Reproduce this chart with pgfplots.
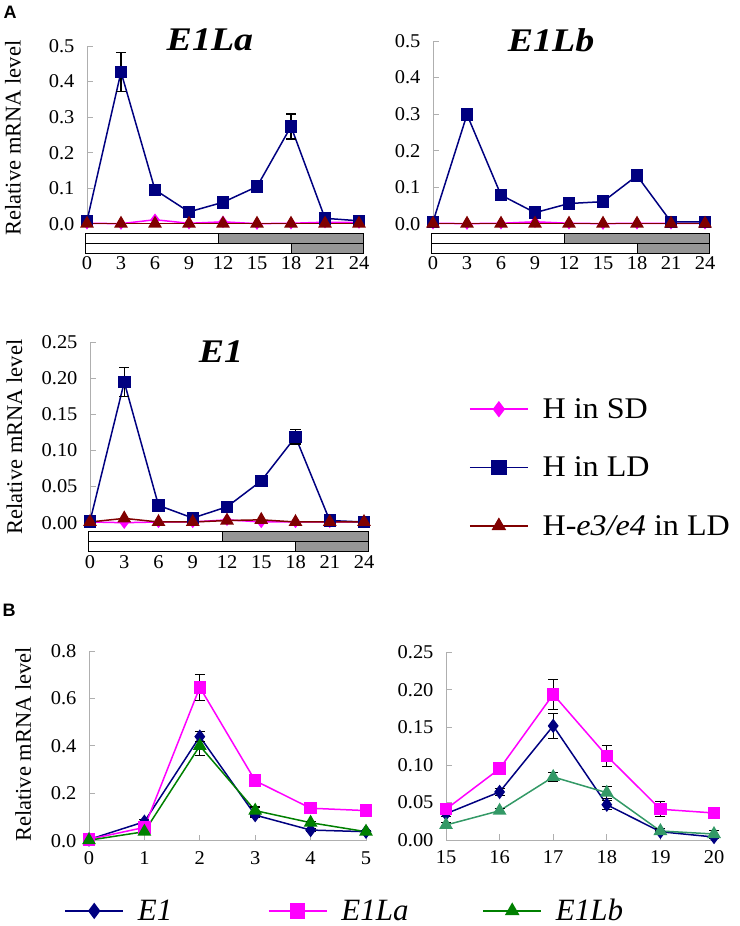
\documentclass[border=0pt]{standalone}
\usepackage{pgfplots}
\pgfplotsset{compat=1.18}
\usepackage{fontspec}
\setmainfont{Liberation Serif}
\newfontfamily\widef{Liberation Serif}[FakeStretch=1.15]
\newfontfamily\legf{Liberation Serif}[FakeStretch=1.07]
\newfontfamily\tickf{Liberation Serif}[FakeStretch=1.05]
\newfontfamily\pfont{Liberation Sans}
\definecolor{navy}{RGB}{0,0,128}
\definecolor{mag}{RGB}{255,0,255}
\definecolor{dred}{RGB}{128,0,0}
\definecolor{dgreen}{RGB}{0,128,0}
\definecolor{sgreen}{RGB}{51,153,102}
\definecolor{axgray}{RGB}{175,175,175}
\definecolor{barg}{RGB}{150,150,150}
\pgfplotsset{
 base/.style={
  scale only axis, anchor=south west, clip=false, enlargelimits=false,
  axis lines=left, axis line style={-, draw=axgray, line width=0.8bp},
  tick align=inside, major tick length=6bp, tick style={axgray, line width=0.8bp},
  /pgf/number format/assume math mode=true,
  tick label style={font=\tickf\fontsize{19.5bp}{22bp}\selectfont},
  yticklabel style={xshift=-9bp},
  legend image code/.code={\draw[mark repeat=2,mark phase=2,##1] plot coordinates {(0bp,0bp) (29bp,0bp) (58bp,0bp)};},
 },
 panA/.style={base, xmin=0, xmax=24, ymin=0, xtick={0,3,...,24},
  x axis line style={draw=none}, xtick style={draw=none}, xticklabel style={yshift=-29bp}},
 panB/.style={base, ymin=0, xticklabel style={yshift=-7bp}},
 dec1/.style={yticklabel style={/pgf/number format/.cd, fixed, fixed zerofill, precision=1}},
 dec2/.style={yticklabel style={/pgf/number format/.cd, fixed, fixed zerofill, precision=2}},
 eb/.style={error bars/.cd, y dir=both, y explicit, error bar style={black, line width=1.2bp},
  error mark options={black, rotate=90, mark size=5bp, line width=1.2bp}},
 sd/.style={color=mag, line width=1.5bp, mark=diamond*, mark size=5bp},
 ld/.style={color=navy, line width=1.5bp, mark=square*, mark size=5.5bp, eb},
 e34/.style={color=dred, line width=1.5bp, mark=triangle*, mark size=6.5bp},
 be1/.style={color=navy, line width=1.5bp, mark=diamond*, mark size=6bp, eb},
 bla/.style={color=mag, line width=1.5bp, mark=square*, mark size=5.5bp, eb},
 blb/.style={color=dgreen, line width=1.5bp, mark=triangle*, mark size=6.5bp, eb},
 blb2/.style={color=sgreen, line width=1.5bp, mark=triangle*, mark size=6.5bp, eb},
}
\newcommand{\lightbars}{%
 \filldraw[fill=white, draw=black, line width=0.8bp] ([yshift=-9bp]axis cs:-0.1,0) rectangle ([yshift=-19bp]axis cs:24.4,0);
 \filldraw[fill=barg, draw=black, line width=0.8bp] ([yshift=-9bp]axis cs:11.6,0) rectangle ([yshift=-19bp]axis cs:24.4,0);
 \filldraw[fill=white, draw=black, line width=0.8bp] ([yshift=-19bp]axis cs:-0.1,0) rectangle ([yshift=-29bp]axis cs:24.4,0);
 \filldraw[fill=barg, draw=black, line width=0.8bp] ([yshift=-19bp]axis cs:18,0) rectangle ([yshift=-29bp]axis cs:24.4,0);
}
\newcommand{\ttl}{\widef\fontsize{33bp}{36bp}\selectfont\bfseries\itshape}
\newcommand{\yl}{\fontsize{22.5bp}{26bp}\selectfont}
\begin{document}
\begin{tikzpicture}
\path[use as bounding box] (0bp,0bp) rectangle (740bp,-926bp);
\node[font=\pfont\fontsize{18bp}{22bp}\selectfont\bfseries] at (10bp,-12bp) {A};
\node[font=\pfont\fontsize{18bp}{22bp}\selectfont\bfseries] at (9bp,-610bp) {B};

% E1La
\begin{axis}[panA, dec1, at={(87bp,-224bp)}, width=272bp, height=178bp, ymax=0.5, ytick={0,0.1,0.2,0.3,0.4,0.5}]
\lightbars
\addplot[sd] coordinates {(0,0.002)(3,0.001)(6,0.012)(9,0.002)(12,0.006)(15,0.001)(18,0.002)(21,0.005)(24,0.004)};
\addplot[ld] coordinates {(0,0.009)+-(0,0.003) (3,0.427)+-(0,0.054) (6,0.096)+-(0,0.006) (9,0.034)+-(0,0.004) (12,0.061)+-(0,0.006) (15,0.105)+-(0,0.005) (18,0.274)+-(0,0.035) (21,0.016)+-(0,0.004) (24,0.009)+-(0,0.002)};
\addplot[e34] coordinates {(0,0.001)(3,0.001)(6,0.001)(9,0.001)(12,0.001)(15,0.001)(18,0.001)(21,0.001)(24,0.001)};
\node[font=\ttl] at (axis description cs:0.452,1.034) {E1La};
\node[font=\yl, rotate=90] at (axis description cs:-0.272,0.483) {Relative mRNA level};
\end{axis}

% E1Lb
\begin{axis}[panA, dec1, at={(433bp,-224bp)}, width=272bp, height=183bp, ymax=0.5, ytick={0,0.1,0.2,0.3,0.4,0.5}]
\lightbars
\addplot[sd] coordinates {(0,0.002)(3,0.001)(6,0.002)(9,0.006)(12,0.002)(15,0.001)(18,0.002)(21,0.002)(24,0.002)};
\addplot[ld] coordinates {(0,0.006)+-(0,0.002) (3,0.299)+-(0,0.006) (6,0.079)+-(0,0.005) (9,0.031)+-(0,0.003) (12,0.056)+-(0,0.003) (15,0.061)+-(0,0.004) (18,0.132)+-(0,0.01) (21,0.006)+-(0,0.002) (24,0.006)+-(0,0.002)};
\addplot[e34] coordinates {(0,0.001)(3,0.001)(6,0.001)(9,0.001)(12,0.001)(15,0.001)(18,0.001)(21,0.001)(24,0.001)};
\node[font=\ttl] at (axis description cs:0.434,1.005) {E1Lb};
\end{axis}

% E1
\begin{axis}[panA, dec2, at={(90bp,-522.7bp)}, width=274bp, height=180.3bp, ymax=0.25, ytick={0,0.05,0.1,0.15,0.2,0.25},
 legend style={at={(axis description cs:1.372,0.712)}, anchor=north west, draw=none, fill=none,
  font=\legf\fontsize{30bp}{34bp}\selectfont, row sep=33bp,
  /tikz/every odd column/.append style={column sep=12bp}}, legend cell align=left,
 legend image post style={mark size=7bp}]
\lightbars
\addplot[sd] coordinates {(0,0.001)(3,0.0)(6,0.001)(9,0.001)(12,0.004)(15,0.001)(18,0.001)(21,0.001)(24,0.001)};
\addlegendentry{H in SD}
\addplot[ld] coordinates {(0,0.002)+-(0,0.001) (3,0.195)+-(0,0.02) (6,0.024)+-(0,0.006) (9,0.0065)+-(0,0.002) (12,0.022)+-(0,0.003) (15,0.058)+-(0,0.003) (18,0.119)+-(0,0.01) (21,0.003)+-(0,0.001) (24,0.001)+-(0,0.001)};
\addlegendentry{H in LD}
\addplot[e34] coordinates {(0,0.001)(3,0.006)(6,0.001)(9,0.001)(12,0.003)(15,0.004)(18,0.001)(21,0.001)(24,0.001)};
\addlegendentry{H-\textit{e3/e4} in LD}
\node[font=\ttl] at (axis description cs:0.478,0.947) {E1};
\node[font=\yl, rotate=90] at (axis description cs:-0.276,0.475) {Relative mRNA level};
\end{axis}

% B left
\begin{axis}[panB, dec1, at={(89bp,-840.7bp)}, width=277bp, height=189.7bp, xmin=0, xmax=5, xtick={0,1,2,3,4,5},
 ymax=0.8, ytick={0,0.2,0.4,0.6,0.8},
 legend columns=3,
 legend style={at={(axis description cs:-0.1,-0.37)}, anchor=west, draw=none, fill=none,
  font=\fontsize{31bp}{34bp}\selectfont\itshape,
  /tikz/every odd column/.append style={column sep=12bp}},
 legend image post style={mark size=7bp}]
\addplot[be1] coordinates {(0,0.005)+-(0,0.002) (1,0.080)+-(0,0.008) (2,0.439)+-(0,0.02) (3,0.108)+-(0,0.008) (4,0.045)+-(0,0.005) (5,0.038)+-(0,0.004)};
\addlegendentry{\makebox[128bp][l]{E1}}
\addplot[bla] coordinates {(0,0.006)+-(0,0.002) (1,0.056)+-(0,0.01) (2,0.647)+-(0,0.055) (3,0.253)+-(0,0.012) (4,0.137)+-(0,0.008) (5,0.127)+-(0,0.01)};
\addlegendentry{\makebox[139bp][l]{E1La}}
\addplot[blb] coordinates {(0,0.002)+-(0,0.002) (1,0.038)+-(0,0.004) (2,0.40)+-(0,0.04) (3,0.127)+-(0,0.015) (4,0.076)+-(0,0.006) (5,0.038)+-(0,0.004)};
\addlegendentry{E1Lb}
\node[font=\yl, rotate=90] at (axis description cs:-0.238,0.508) {Relative mRNA level};
\end{axis}

% B right
\begin{axis}[panB, dec2, at={(446bp,-840bp)}, width=268bp, height=187.7bp, xmin=15, xmax=20, xtick={15,16,17,18,19,20},
 ymax=0.25, ytick={0,0.05,0.1,0.15,0.2,0.25}]
\addplot[be1] coordinates {(15,0.035)+-(0,0.004) (16,0.064)+-(0,0.005) (17,0.152)+-(0,0.017) (18,0.047)+-(0,0.006) (19,0.011)+-(0,0.002) (20,0.004)+-(0,0.002)};
\addplot[bla] coordinates {(15,0.041)+-(0,0.004) (16,0.095)+-(0,0.004) (17,0.194)+-(0,0.02) (18,0.112)+-(0,0.014) (19,0.041)+-(0,0.01) (20,0.036)+-(0,0.006)};
\addplot[blb2] coordinates {(15,0.020)+-(0,0.003) (16,0.039)+-(0,0.003) (17,0.084)+-(0,0.006) (18,0.063)+-(0,0.008) (19,0.012)+-(0,0.003) (20,0.008)+-(0,0.005)};
\end{axis}
\end{tikzpicture}
\end{document}
